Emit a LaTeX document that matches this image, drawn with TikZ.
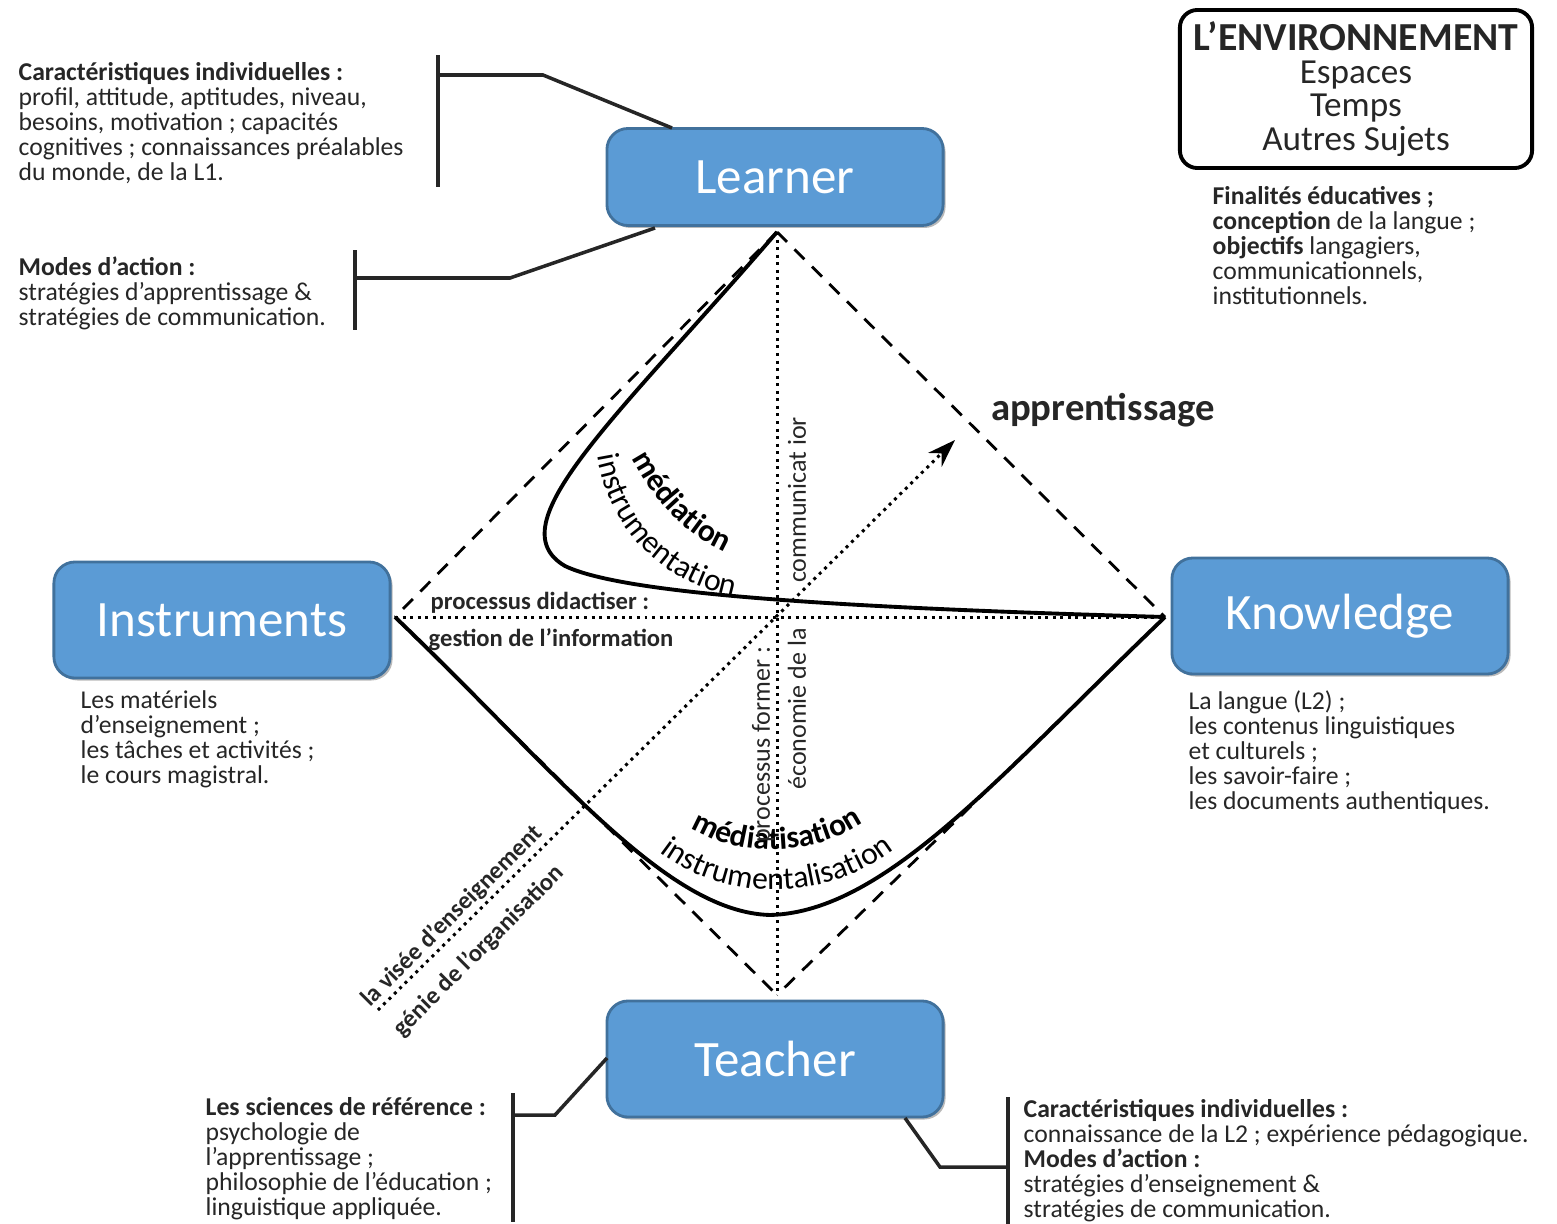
\documentclass[tikz,border=0pt]{standalone}
\usepackage{fontspec}
\setmainfont{Carlito}
\usetikzlibrary{arrows.meta, decorations.text, shadows}
\definecolor{boxfill}{HTML}{5B9BD5}
\definecolor{boxedge}{HTML}{41719C}
\definecolor{inkgray}{HTML}{262626}

\begin{document}
\begin{tikzpicture}[x = 0.01cm, y = -0.01cm,
		box/.style = {draw = boxedge, fill = boxfill, line width = 0.8pt, rounded corners = 6pt,
			text = white, font = \fontsize{14.5}{16}\selectfont,
			minimum width = 3.36cm, minimum height = 1.16cm,
			drop shadow = {opacity = 0.55, shadow xshift = 0.7pt, shadow yshift = -0.7pt}},
		envbox/.style = {draw, line width = 1.1pt, rounded corners = 5pt, align = center,
			minimum width = 3.52cm, minimum height = 1.58cm, inner sep = 0pt,
			font = \fontsize{10}{9.4}\selectfont, text = inkgray},
		info/.style = {anchor = north west, inner sep = 0pt, align = left,
			font = \fontsize{7.3}{7.1}\selectfont, text = inkgray},
		midlabel/.style = {inner sep = 0pt, font = \fontsize{7}{8}\selectfont\bfseries, text = inkgray},
		vlabel/.style = {inner sep = 0pt, rotate = 90, font = \fontsize{7.4}{8}\selectfont, text = inkgray},
		bar/.style = {line width = 1pt, draw = black!85},
		dashline/.style = {line width = 0.8pt, dash pattern = on 4pt off 3pt},
		dotline/.style = {line width = 0.85pt, dash pattern = on 0.85pt off 1.3pt},
		arcline/.style = {line width = 1.1pt}]
		\useasboundingbox (0, 0) rectangle (1557, 1224);
		%%%%%%%%%%%%%
		\node[box, minimum height = 0.97cm] (learner) at (775, 177) {Learner};
		\node[box] (instruments) at (222, 620) {Instruments};
		\node[box] (knowledge) at (1340, 616) {Knowledge};
		\node[box] (teacher) at (775, 1059) {Teacher};
		\node[envbox] (env) at (1356, 89) {{\fontsize{11.3}{9.4}\selectfont\bfseries L’ENVIRONNEMENT}\\Espaces\\Temps\\Autres Sujets};
		%%%%%%%%%%%%%
		\coordinate (ptop) at (777, 232); \coordinate (pbot) at (777, 995);
		\coordinate (pleft) at (395, 617); \coordinate (pright) at (1165, 617);
		\coordinate (plow) at (378, 1010); \coordinate (ptip) at (955, 440);
		%%%%%%%%%%%%%
		\draw[dashline] (ptop) to (pleft); \draw[dashline] (ptop) to (pright);
		\draw[dashline] (pleft) to (pbot); \draw[dashline] (pright) to (pbot);
		\draw[dotline] (ptop) to (pbot); \draw[dotline] (pleft) to (pright);
		\draw[dotline, -{Stealth[length = 8pt, width = 5.5pt]}] (plow) to (ptip);
		\draw[arcline] (ptop) .. controls (615, 420) and (495, 525) .. (565, 566)
			.. controls (625, 595) and (850, 608) .. (pright);
		\draw[arcline] (pleft) .. controls (555, 770) and (665, 912) .. (770, 915)
			.. controls (885, 912) and (1000, 775) .. (pright);
		%%%%%%%%%%%%%
		\path[decorate, decoration = {text along path, text align = center,
			text = {|\fontsize{9}{9}\selectfont\bfseries|médiation}}]
			(629, 454) .. controls (655, 504) and (687, 536) .. (730, 554);
		\path[decorate, decoration = {text along path, text align = center,
			text = {|\fontsize{9}{9}\selectfont|instrumentation}}]
			(596, 446) .. controls (605, 525) and (660, 585) .. (744, 598);
		\path[decorate, decoration = {text along path, text align = center,
			text = {|\fontsize{9}{9}\selectfont\bfseries|médiatisation}}]
			(688, 826) .. controls (737, 858) and (813, 858) .. (866, 821);
		\path[decorate, decoration = {text along path, text align = center,
			text = {|\fontsize{9}{9}\selectfont|instrumentalisation}}]
			(652, 846) .. controls (720, 905) and (830, 905) .. (902, 843);
		%%%%%%%%%%%%%
		\node[midlabel, anchor = west] (didact) at (430, 603) {processus didactiser :};
		\node[midlabel, anchor = west] (gestion) at (428, 640) {gestion de l’information};
		\node[vlabel] (comm) at (797, 500) {communicat ior};
		\node[vlabel] (econ) at (797, 709) {économie de la};
		\node[vlabel] (former) at (763, 745) {processus former :};
		\node[midlabel, rotate = 45] (visee) at (452, 916) {la visée d’enseignement};
		\node[midlabel, rotate = 45] (genie) at (479, 951) {génie de l’organisation};
		\node[font = \fontsize{11}{12}\selectfont\bfseries, text = inkgray] (appr) at (1103, 410) {apprentissage};
		%%%%%%%%%%%%%
		\node[info] (learnerinfo) at (18, 62) {\textbf{Caractéristiques individuelles :}\\profil, attitude, aptitudes, niveau,\\besoins, motivation ; capacités\\cognitives ; connaissances préalables\\du monde, de la L1.};
		\node[info] (learnermodes) at (18, 256) {\textbf{Modes d’action :}\\stratégies d’apprentissage \&\\stratégies de communication.};
		\node[info] (envinfo) at (1212, 186) {\textbf{Finalités éducatives ;}\\\textbf{conception} de la langue ;\\\textbf{objectifs} langagiers,\\communicationnels,\\institutionnels.};
		\node[info] (instrinfo) at (80, 690) {Les matériels\\d’enseignement ;\\les tâches et activités ;\\le cours magistral.};
		\node[info] (knowinfo) at (1188, 690) {La langue (L2) ;\\les contenus linguistiques\\et culturels ;\\les savoir-faire ;\\les documents authentiques.};
		\node[info] (teachsci) at (205, 1097) {\textbf{Les sciences de référence :}\\psychologie de\\l’apprentissage ;\\philosophie de l’éducation ;\\linguistique appliquée.};
		\node[info] (teachinfo) at (1023, 1099) {\textbf{Caractéristiques individuelles :}\\connaissance de la L2 ; expérience pédagogique.\\\textbf{Modes d’action :}\\stratégies d’enseignement \&\\stratégies de communication.};
		%%%%%%%%%%%%%
		\coordinate (b1top) at (438, 55); \coordinate (b1bot) at (438, 187);
		\coordinate (b1mid) at (438, 75); \coordinate (b1knee) at (543, 75);
		\coordinate (l1) at (672, 128);
		\coordinate (b2top) at (355, 250); \coordinate (b2bot) at (355, 330);
		\coordinate (b2mid) at (355, 278); \coordinate (b2knee) at (510, 278);
		\coordinate (l2) at (655, 228);
		\coordinate (b3top) at (513, 1093); \coordinate (b3bot) at (513, 1222);
		\coordinate (b3mid) at (513, 1115); \coordinate (b3knee) at (555, 1115);
		\coordinate (t3) at (607, 1058);
		\coordinate (b4top) at (1008, 1097); \coordinate (b4bot) at (1008, 1224);
		\coordinate (b4mid) at (1008, 1167); \coordinate (b4knee) at (940, 1167);
		\coordinate (t4) at (905, 1118);
		\draw[bar, line width = 1.3pt] (b1top) to (b1bot); \draw[bar] (b1mid) -- (b1knee) -- (l1);
		\draw[bar] (b2top) to (b2bot); \draw[bar] (b2mid) -- (b2knee) -- (l2);
		\draw[bar] (b3top) to (b3bot); \draw[bar] (b3mid) -- (b3knee) -- (t3);
		\draw[bar] (b4top) to (b4bot); \draw[bar] (b4mid) -- (b4knee) -- (t4);
\end{tikzpicture}
\end{document}
